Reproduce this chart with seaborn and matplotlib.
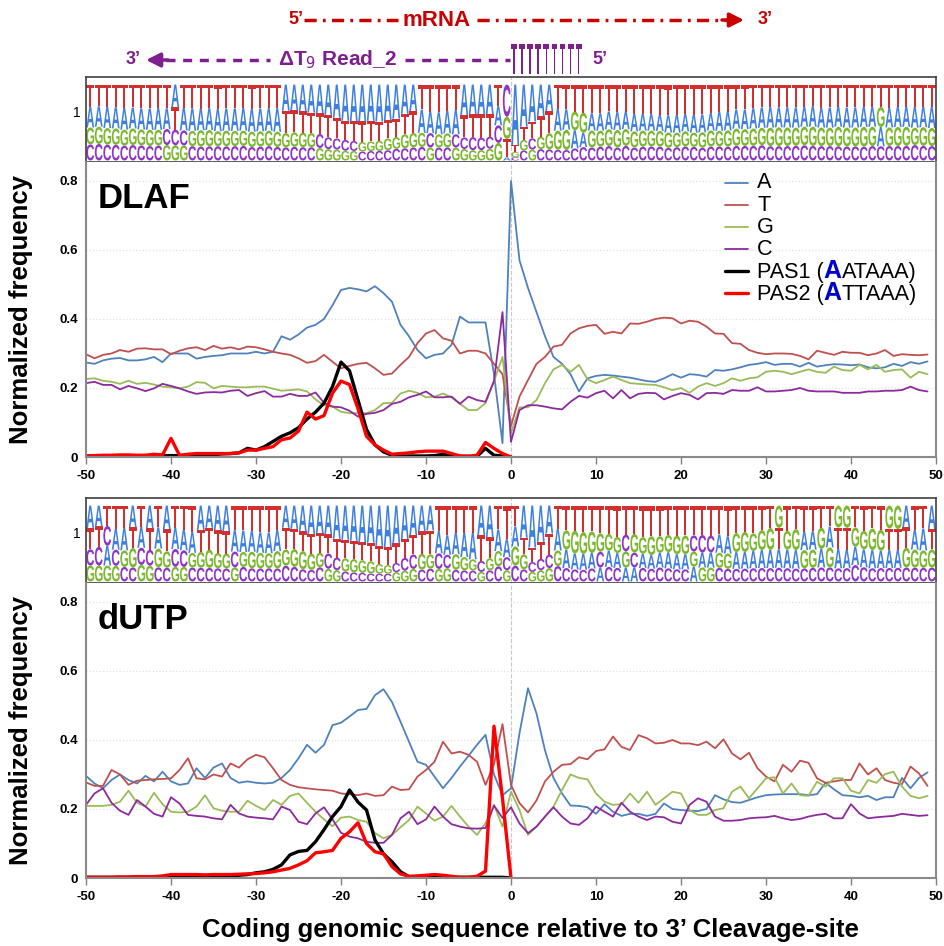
import matplotlib
matplotlib.use("Agg")
import matplotlib.pyplot as plt
import numpy as np
import pandas as pd
import seaborn as sns
from matplotlib.font_manager import FontProperties
from matplotlib.offsetbox import AnchoredOffsetbox, HPacker, TextArea
from matplotlib.patches import PathPatch
from matplotlib.textpath import TextPath
from matplotlib.transforms import Affine2D

# positions relative to the cleavage site
POS = list(range(-50, 50))
PAS_POS = list(range(-50, 1))
BASES = ["A", "T", "G", "C"]

# ---- DLAF ----
DLAF_A = [0.274, 0.27, 0.28, 0.285, 0.287, 0.28, 0.28, 0.283, 0.29, 0.275,
          0.30, 0.30, 0.30, 0.285, 0.29, 0.293, 0.295, 0.30, 0.30, 0.30,
          0.305, 0.30, 0.305, 0.35, 0.34, 0.355, 0.375, 0.383, 0.40, 0.44,
          0.484, 0.49, 0.486, 0.48, 0.495, 0.475, 0.45, 0.383, 0.35, 0.31,
          0.286, 0.296, 0.30, 0.325, 0.407, 0.39, 0.39, 0.39, 0.24, 0.04,
          0.80, 0.57, 0.49, 0.42, 0.35, 0.29, 0.27, 0.24, 0.19, 0.228,
          0.235, 0.238, 0.236, 0.233, 0.23, 0.225, 0.22, 0.218, 0.228, 0.24,
          0.23, 0.24, 0.238, 0.233, 0.252, 0.25, 0.254, 0.26, 0.267, 0.27,
          0.275, 0.267, 0.27, 0.27, 0.262, 0.273, 0.262, 0.266, 0.269, 0.268,
          0.266, 0.268, 0.26, 0.257, 0.26, 0.27, 0.264, 0.275, 0.27, 0.277]
DLAF_T = [0.298, 0.286, 0.296, 0.30, 0.31, 0.305, 0.314, 0.315, 0.312, 0.312,
          0.298, 0.308, 0.315, 0.318, 0.31, 0.322, 0.314, 0.318, 0.312, 0.32,
          0.318, 0.312, 0.305, 0.30, 0.296, 0.286, 0.273, 0.278, 0.296, 0.276,
          0.257, 0.264, 0.27, 0.273, 0.257, 0.238, 0.242, 0.267, 0.29, 0.33,
          0.358, 0.368, 0.344, 0.337, 0.30, 0.308, 0.308, 0.30, 0.27, 0.24,
          0.09, 0.175, 0.223, 0.27, 0.29, 0.32, 0.325, 0.358, 0.373, 0.38,
          0.383, 0.357, 0.363, 0.358, 0.387, 0.386, 0.392, 0.40, 0.404, 0.402,
          0.387, 0.395, 0.392, 0.378, 0.358, 0.357, 0.33, 0.328, 0.31, 0.302,
          0.298, 0.30, 0.30, 0.299, 0.293, 0.283, 0.308, 0.302, 0.296, 0.305,
          0.302, 0.302, 0.295, 0.30, 0.31, 0.293, 0.298, 0.296, 0.295, 0.297]
DLAF_G = [0.226, 0.228, 0.221, 0.218, 0.212, 0.221, 0.212, 0.215, 0.21, 0.204,
          0.202, 0.199, 0.204, 0.217, 0.215, 0.199, 0.206, 0.204, 0.202, 0.202,
          0.204, 0.204, 0.198, 0.192, 0.194, 0.196, 0.19, 0.167, 0.15, 0.146,
          0.131, 0.127, 0.127, 0.127, 0.136, 0.156, 0.157, 0.184, 0.192, 0.186,
          0.173, 0.175, 0.184, 0.173, 0.154, 0.136, 0.136, 0.156, 0.22, 0.29,
          0.069, 0.144, 0.144, 0.165, 0.214, 0.254, 0.267, 0.247, 0.267, 0.225,
          0.214, 0.223, 0.233, 0.223, 0.214, 0.212, 0.21, 0.209, 0.202, 0.194,
          0.20, 0.186, 0.204, 0.214, 0.206, 0.214, 0.228, 0.221, 0.228, 0.231,
          0.247, 0.25, 0.247, 0.24, 0.247, 0.254, 0.247, 0.244, 0.262, 0.252,
          0.25, 0.267, 0.254, 0.267, 0.247, 0.252, 0.254, 0.23, 0.247, 0.24]
DLAF_C = [0.214, 0.218, 0.209, 0.209, 0.196, 0.206, 0.199, 0.191, 0.199, 0.212,
          0.206, 0.199, 0.19, 0.183, 0.187, 0.188, 0.187, 0.192, 0.194, 0.177,
          0.185, 0.191, 0.175, 0.175, 0.183, 0.177, 0.177, 0.187, 0.157, 0.146,
          0.144, 0.134, 0.117, 0.125, 0.128, 0.136, 0.154, 0.16, 0.173, 0.18,
          0.19, 0.173, 0.173, 0.175, 0.154, 0.175, 0.165, 0.16, 0.22, 0.42,
          0.044, 0.136, 0.15, 0.15, 0.146, 0.141, 0.138, 0.16, 0.177, 0.172,
          0.185, 0.192, 0.17, 0.194, 0.17, 0.183, 0.186, 0.185, 0.167, 0.177,
          0.185, 0.18, 0.167, 0.185, 0.186, 0.183, 0.194, 0.192, 0.192, 0.202,
          0.19, 0.19, 0.192, 0.194, 0.20, 0.192, 0.19, 0.19, 0.19, 0.186,
          0.186, 0.186, 0.19, 0.19, 0.192, 0.192, 0.194, 0.204, 0.194, 0.19]
DLAF_PAS1 = [0.003, 0.003, 0.003, 0.003, 0.003, 0.003, 0.004, 0.004, 0.004, 0.004,
             0.004, 0.004, 0.004, 0.005, 0.005, 0.007, 0.009, 0.01, 0.012, 0.025,
             0.02, 0.03, 0.045, 0.06, 0.07, 0.085, 0.11, 0.13, 0.156, 0.204,
             0.275, 0.25, 0.165, 0.08, 0.035, 0.015, 0.005, 0.003, 0.003, 0.003,
             0.003, 0.004, 0.008, 0.005, 0.002, 0.002, 0.002, 0.025, 0.005, 0.003, 0.0]
DLAF_PAS2 = [0.003, 0.004, 0.005, 0.005, 0.006, 0.006, 0.005, 0.005, 0.008, 0.006,
             0.054, 0.005, 0.008, 0.01, 0.01, 0.01, 0.01, 0.01, 0.012, 0.02,
             0.02, 0.025, 0.03, 0.05, 0.055, 0.075, 0.13, 0.11, 0.12, 0.185,
             0.22, 0.21, 0.14, 0.06, 0.035, 0.02, 0.008, 0.01, 0.012, 0.015,
             0.017, 0.017, 0.017, 0.01, 0.003, 0.002, 0.005, 0.042, 0.025, 0.01, 0.0]

# ---- dUTP ----
DUTP_A = [0.296, 0.274, 0.26, 0.284, 0.30, 0.284, 0.274, 0.296, 0.28, 0.308,
          0.28, 0.27, 0.274, 0.318, 0.29, 0.32, 0.332, 0.29, 0.276, 0.28,
          0.276, 0.274, 0.276, 0.29, 0.313, 0.347, 0.386, 0.363, 0.386, 0.443,
          0.45, 0.468, 0.487, 0.49, 0.53, 0.547, 0.51, 0.453, 0.395, 0.337,
          0.328, 0.294, 0.26, 0.29, 0.323, 0.354, 0.386, 0.415, 0.30, 0.24,
          0.26, 0.42, 0.55, 0.477, 0.37, 0.29, 0.245, 0.21, 0.209, 0.205,
          0.186, 0.214, 0.192, 0.18, 0.186, 0.186, 0.18, 0.186, 0.216, 0.20,
          0.197, 0.195, 0.194, 0.20, 0.24, 0.228, 0.22, 0.218, 0.226, 0.234,
          0.24, 0.242, 0.243, 0.243, 0.243, 0.24, 0.243, 0.276, 0.257, 0.24,
          0.238, 0.234, 0.238, 0.226, 0.234, 0.234, 0.29, 0.26, 0.29, 0.306]
DUTP_T = [0.277, 0.267, 0.267, 0.313, 0.30, 0.27, 0.282, 0.284, 0.286, 0.287,
          0.289, 0.313, 0.347, 0.289, 0.286, 0.30, 0.294, 0.332, 0.32, 0.344,
          0.357, 0.35, 0.318, 0.284, 0.27, 0.263, 0.26, 0.257, 0.255, 0.253,
          0.245, 0.243, 0.24, 0.245, 0.238, 0.24, 0.265, 0.255, 0.257, 0.294,
          0.313, 0.337, 0.395, 0.361, 0.366, 0.357, 0.337, 0.27, 0.33, 0.446,
          0.27, 0.217, 0.19, 0.225, 0.28, 0.308, 0.328, 0.33, 0.35, 0.344,
          0.368, 0.373, 0.41, 0.38, 0.371, 0.414, 0.405, 0.39, 0.392, 0.40,
          0.39, 0.39, 0.385, 0.395, 0.376, 0.402, 0.361, 0.344, 0.363, 0.318,
          0.294, 0.28, 0.328, 0.308, 0.34, 0.334, 0.289, 0.276, 0.28, 0.284,
          0.284, 0.332, 0.30, 0.318, 0.284, 0.276, 0.272, 0.323, 0.303, 0.267]
DUTP_G = [0.209, 0.209, 0.209, 0.212, 0.221, 0.253, 0.218, 0.207, 0.247, 0.214,
          0.192, 0.19, 0.192, 0.207, 0.24, 0.202, 0.195, 0.192, 0.192, 0.224,
          0.209, 0.197, 0.226, 0.212, 0.238, 0.245, 0.218, 0.192, 0.17, 0.15,
          0.175, 0.178, 0.168, 0.163, 0.13, 0.115, 0.125, 0.147, 0.168, 0.207,
          0.187, 0.166, 0.178, 0.209, 0.178, 0.149, 0.125, 0.159, 0.212, 0.149,
          0.25, 0.197, 0.125, 0.149, 0.178, 0.207, 0.255, 0.30, 0.29, 0.286,
          0.245, 0.221, 0.212, 0.214, 0.245, 0.218, 0.25, 0.212, 0.231, 0.25,
          0.245, 0.197, 0.183, 0.183, 0.197, 0.202, 0.25, 0.265, 0.231, 0.26,
          0.289, 0.292, 0.245, 0.274, 0.24, 0.238, 0.279, 0.265, 0.289, 0.289,
          0.253, 0.245, 0.284, 0.276, 0.301, 0.308, 0.265, 0.238, 0.231, 0.238]
DUTP_C = [0.212, 0.245, 0.26, 0.218, 0.195, 0.183, 0.226, 0.207, 0.186, 0.178,
          0.234, 0.216, 0.183, 0.18, 0.178, 0.173, 0.17, 0.212, 0.187, 0.178,
          0.175, 0.173, 0.17, 0.207, 0.197, 0.163, 0.156, 0.187, 0.205, 0.17,
          0.131, 0.12, 0.115, 0.105, 0.102, 0.102, 0.125, 0.173, 0.192, 0.156,
          0.17, 0.207, 0.178, 0.156, 0.149, 0.144, 0.143, 0.145, 0.21, 0.174,
          0.205, 0.158, 0.13, 0.149, 0.178, 0.205, 0.178, 0.158, 0.154, 0.173,
          0.207, 0.192, 0.178, 0.218, 0.192, 0.178, 0.168, 0.178, 0.176, 0.163,
          0.158, 0.212, 0.231, 0.221, 0.178, 0.166, 0.166, 0.168, 0.173, 0.175,
          0.176, 0.18, 0.173, 0.168, 0.171, 0.178, 0.183, 0.186, 0.173, 0.173,
          0.214, 0.187, 0.173, 0.176, 0.178, 0.18, 0.186, 0.183, 0.18, 0.182]
DUTP_PAS1 = [0.002, 0.002, 0.002, 0.002, 0.002, 0.002, 0.002, 0.002, 0.002, 0.002,
             0.004, 0.004, 0.005, 0.005, 0.006, 0.006, 0.008, 0.006, 0.008, 0.01,
             0.015, 0.018, 0.025, 0.038, 0.067, 0.077, 0.08, 0.105, 0.14, 0.178,
             0.207, 0.255, 0.22, 0.197, 0.11, 0.07, 0.047, 0.018, 0.004, 0.002,
             0.002, 0.002, 0.002, 0.002, 0.002, 0.002, 0.002, 0.002, 0.002, 0.002, 0.0]
DUTP_PAS2 = [0.002, 0.002, 0.002, 0.002, 0.003, 0.003, 0.004, 0.004, 0.004, 0.006,
             0.01, 0.01, 0.01, 0.01, 0.009, 0.01, 0.01, 0.01, 0.011, 0.012,
             0.013, 0.015, 0.018, 0.023, 0.028, 0.038, 0.05, 0.073, 0.076, 0.08,
             0.115, 0.134, 0.16, 0.10, 0.076, 0.07, 0.033, 0.012, 0.005, 0.006,
             0.008, 0.01, 0.008, 0.005, 0.002, 0.002, 0.005, 0.02, 0.44, 0.23, 0.0]

LINE_COLORS = {"A": "#4F81BD", "T": "#C0504D", "G": "#9BBB59", "C": "#8E2A9E"}
PAS_COLORS = {"PAS1": "#000000", "PAS2": "#FF0000"}
LOGO_COLORS = {"A": "#3F7FE0", "T": "#D32F2F", "G": "#7CB82F", "C": "#8E35C8"}
RED = "#C80000"
PURPLE = "#7E1F8E"

sns.set_theme(style="white")
plt.rcParams["font.family"] = ["Liberation Sans", "DejaVu Sans"]
plt.rcParams["axes.unicode_minus"] = False
for key in ["text.color", "axes.labelcolor", "xtick.labelcolor", "ytick.labelcolor"]:
    plt.rcParams[key] = "black"

LOGO_FONT = FontProperties(family="Liberation Sans", weight="bold")
GLYPHS = {}


def draw_letter(ax, ch, x, y, w, h, color, prop=LOGO_FONT):
    key = (ch, prop.get_weight())
    if key not in GLYPHS:
        GLYPHS[key] = TextPath((0, 0), ch, size=1, prop=prop)
    tp = GLYPHS[key]
    ext = tp.get_extents()
    tr = (Affine2D().translate(-ext.x0, -ext.y0)
          .scale(w / ext.width, h / ext.height).translate(x, y))
    ax.add_patch(PathPatch(tr.transform_path(tp), facecolor=color,
                           edgecolor="none", lw=0))


def draw_logo(ax, freqs):
    for i, p in enumerate(POS):
        col = {b: freqs[b][i] for b in BASES}
        total = sum(col.values())
        y = 0.0
        for b in sorted(BASES, key=lambda k: col[k]):
            h = col[b] / total
            draw_letter(ax, b, p + 0.04, y, 0.92, h, LOGO_COLORS[b])
            y += h
    ax.set_xlim(-50, 50)
    ax.set_ylim(-0.02, 1.1)
    ax.axvline(0, color="#c8c8c8", ls="--", lw=0.8, zorder=0)
    ax.set_xticks(np.arange(-50, 51))
    ax.set_xticklabels([])
    ax.set_yticks([0.64])
    ax.set_yticklabels(["1"])
    ax.tick_params(axis="x", length=4, width=0.6, color="#b0b0b0", bottom=True)
    ax.tick_params(axis="y", length=0, labelsize=10, pad=4)
    for s in ax.spines.values():
        s.set_color("#404040")
        s.set_linewidth(1.2)


def draw_chart(ax, freqs, pas1, pas2, name):
    df = pd.DataFrame({
        "pos": POS * 4,
        "freq": sum((freqs[b] for b in BASES), []),
        "base": np.repeat(BASES, len(POS)),
    })
    pas = pd.DataFrame({
        "pos": PAS_POS * 2,
        "freq": pas1 + pas2,
        "motif": np.repeat(["PAS1", "PAS2"], len(PAS_POS)),
    })
    ax.axvline(0, color="#c8c8c8", ls="--", lw=0.8, zorder=0)
    sns.lineplot(data=df, x="pos", y="freq", hue="base", hue_order=BASES,
                 palette=LINE_COLORS, estimator=None, linewidth=1.3,
                 legend=False, ax=ax)
    sns.lineplot(data=pas, x="pos", y="freq", hue="motif",
                 hue_order=["PAS1", "PAS2"], palette=PAS_COLORS,
                 estimator=None, linewidth=2.4, legend=False, ax=ax)
    ax.set_xlim(-50, 50)
    ax.set_ylim(0, 0.855)
    ax.set_xticks(range(-50, 51, 10))
    ax.set_yticks([0, 0.2, 0.4, 0.6, 0.8])
    ax.set_yticklabels(["0", "0.2", "0.4", "0.6", "0.8"])
    ax.grid(axis="y", color="#e2e2e2", ls=":", lw=0.9)
    ax.tick_params(axis="x", length=5, width=1, color="#808080",
                   labelsize=9.5, pad=4, bottom=True)
    ax.tick_params(axis="y", length=0, labelsize=9.5, pad=6)
    for lab in ax.get_xticklabels() + ax.get_yticklabels():
        lab.set_fontweight("bold")
    ax.set_xlabel("")
    ax.set_ylabel("Normalized frequency", fontsize=18.5, fontweight="bold")
    ax.yaxis.set_label_coords(-0.062, 0.5)
    ax.spines["top"].set_visible(False)
    for side in ["left", "bottom", "right"]:
        ax.spines[side].set_color("#8a8a8a")
        ax.spines[side].set_linewidth(1.5)
    ax.text(0.014, 0.845, name, transform=ax.transAxes, fontsize=25,
            fontweight="bold", va="baseline", color="black")


fig = plt.figure(figsize=(9.44, 9.46), dpi=100)
L, W = 86 / 944, 850 / 944
ax_logo1 = fig.add_axes([L, 1 - 162 / 946, W, 85 / 946])
ax1 = fig.add_axes([L, 1 - 457 / 946, W, 295 / 946])
ax_logo2 = fig.add_axes([L, 1 - 583 / 946, W, 85 / 946])
ax2 = fig.add_axes([L, 1 - 878 / 946, W, 295 / 946])

dlaf = {"A": DLAF_A, "T": DLAF_T, "G": DLAF_G, "C": DLAF_C}
dutp = {"A": DUTP_A, "T": DUTP_T, "G": DUTP_G, "C": DUTP_C}
draw_logo(ax_logo1, dlaf)
draw_logo(ax_logo2, dutp)
draw_chart(ax1, dlaf, DLAF_PAS1, DLAF_PAS2, "DLAF")
draw_chart(ax2, dutp, DUTP_PAS1, DUTP_PAS2, "dUTP")

fig.text(530 / 944, 1 - 930 / 946,
         "Coding genomic sequence relative to 3\u2019 Cleavage-site",
         ha="center", va="center", fontsize=18.5, fontweight="bold")

# overlay in pixel coordinates for the strand annotation and the legend
ov = fig.add_axes([0, 0, 1, 1], zorder=10)
ov.set_xlim(0, 944)
ov.set_ylim(946, 0)
ov.set_axis_off()
ov.patch.set_alpha(0)

ov.text(288, 20, "5\u2019", color=RED, fontsize=13, fontweight="bold",
        ha="left", va="center")
ov.plot([304, 398], [20, 20], color=RED, lw=2.5, ls=(0, (3.5, 1.8, 0.8, 1.8)))
ov.text(437, 20, "mRNA", color=RED, fontsize=16, fontweight="bold",
        ha="center", va="center")
ov.plot([477, 726], [20, 20], color=RED, lw=2.5, ls=(0, (3.5, 1.8, 0.8, 1.8)))
ov.annotate("", xy=(744, 20), xytext=(722, 20),
            arrowprops=dict(arrowstyle="-|>,head_length=0.7,head_width=0.35",
                            color=RED, lw=2.5, shrinkA=0, shrinkB=0))
ov.text(758, 20, "3\u2019", color=RED, fontsize=13, fontweight="bold",
        ha="left", va="center")

ov.text(126, 60, "3\u2019", color=PURPLE, fontsize=13, fontweight="bold",
        ha="left", va="center")
ov.annotate("", xy=(146, 60), xytext=(168, 60),
            arrowprops=dict(arrowstyle="-|>,head_length=0.7,head_width=0.35",
                            color=PURPLE, lw=2.5, shrinkA=0, shrinkB=0))
ov.plot([166, 270], [60, 60], color=PURPLE, lw=2.5, ls=(0, (2.6, 2.2)))
ov.text(338, 60, "\u0394T$_9$ Read_2", color=PURPLE, fontsize=15,
        fontweight="bold", ha="center", va="center")
ov.plot([405, 510], [60, 60], color=PURPLE, lw=2.5, ls=(0, (2.6, 2.2)))
for k in range(9):
    draw_letter(ov, "T", 511 + k * 8.1, 74, 5.8, -30, PURPLE)
ov.text(592, 60, "5\u2019", color=PURPLE, fontsize=13, fontweight="bold",
        ha="left", va="center")

# legend of the top chart
rows = [("A", LINE_COLORS["A"], 1.3), ("T", LINE_COLORS["T"], 1.3),
        ("G", LINE_COLORS["G"], 1.3), ("C", LINE_COLORS["C"], 1.3),
        ("PAS1", PAS_COLORS["PAS1"], 2.4), ("PAS2", PAS_COLORS["PAS2"], 2.4)]
motif_rest = {"PAS1": "ATAAA)", "PAS2": "TTAAA)"}
for k, (lab, color, lw) in enumerate(rows):
    y = 183 + k * 22
    ov.plot([725, 748], [y, y], color=color, lw=lw)
    tp = dict(fontsize=15.6, color="black")
    if lab in motif_rest:
        parts = [TextArea(lab + " (", textprops=tp),
                 TextArea("A", textprops=dict(fontsize=18, color="#0000CC",
                                              fontweight="bold")),
                 TextArea(motif_rest[lab], textprops=tp)]
        box = HPacker(children=parts, align="baseline", pad=0, sep=0)
    else:
        box = TextArea(lab, textprops=tp)
    anchored = AnchoredOffsetbox(loc="center left", child=box, pad=0,
                                 borderpad=0, frameon=False,
                                 bbox_to_anchor=(757, y),
                                 bbox_transform=ov.transData)
    ov.add_artist(anchored)

fig.savefig("out.png", dpi=100)
